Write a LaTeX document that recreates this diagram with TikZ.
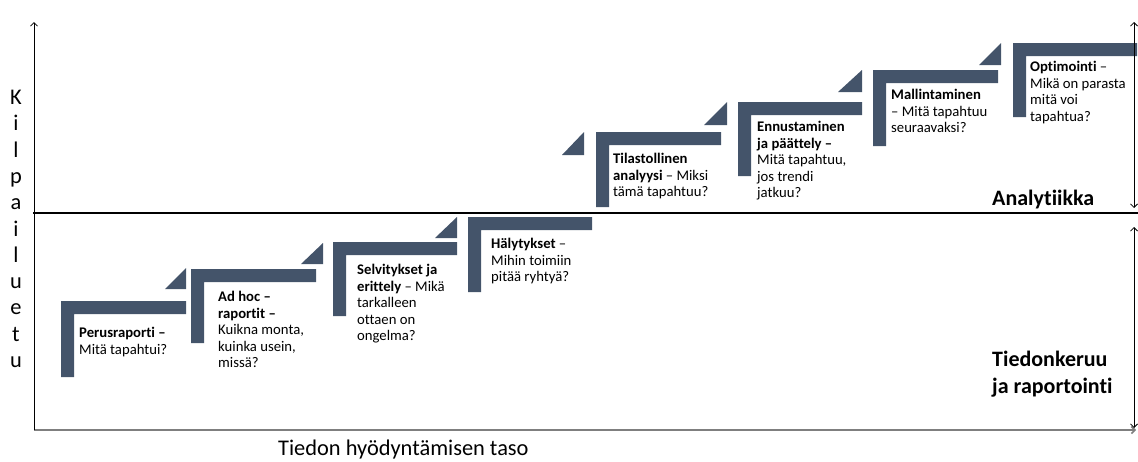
\documentclass[tikz,border=0pt]{standalone}
\usepackage{fontspec}
\setmainfont{Carlito}[Ligatures={NoCommon}]
\usetikzlibrary{arrows.meta}
\definecolor{stepblue}{HTML}{44546A}
\definecolor{axisgray}{HTML}{7F7F7F}
\begin{document}
\begin{tikzpicture}[x=1pt,y=-1pt,
  stepshape/.style={fill=stepblue,draw=none},
  steptext/.style={anchor=north west,inner sep=0pt,align=left,font=\fontsize{14.7}{16.6}\selectfont},
  biglabel/.style={inner sep=0pt,align=left,font=\fontsize{22}{27}\selectfont\bfseries},
  axislabel/.style={inner sep=0pt,align=center,font=\fontsize{22.4}{26.3}\selectfont},
  tip/.tip={Straight Barb[length=3.5pt,width=7pt]},
  axisline/.style={-tip,line width=0.8pt},
  rangearrow/.style={tip-tip,line width=0.8pt}]
\useasboundingbox (0,0) rectangle (1138,461);

% step corner shapes: left/top/right/bottom
\foreach \l/\t/\r/\b in {61/301/186/377, 191/269/316/343, 333/242/457/316, 468/217/592/292,
                          596/132/721/207, 738/102/862/176, 873/70/998/146, 1013/43/1137/117}{
  \fill[stepshape] (\l,\b) -- (\l,\t) -- (\r,\t) -- (\r,\t+13) -- (\l+13,\t+13) -- (\l+13,\b) -- cycle;
}
% small triangles: left/right/top/bottom
\foreach \a/\c/\u/\d in {165/186/268/289, 301/323/243/264, 435/457/217/238, 562/584/132/155,
                         704/727/102/125, 838/862/70/92, 979/1001/43/65}{
  \fill[stepshape] (\a,\d) -- (\c,\d) -- (\c,\u) -- cycle;
}

% axes and dividers
\coordinate (origin) at (34,430);
\coordinate (ytop) at (34,22);
\coordinate (xend) at (1136,430);
\coordinate (dl) at (33,213);
\coordinate (dr) at (1138,213);
\coordinate (ua) at (1134,22);
\coordinate (ub) at (1134,208);
\coordinate (la) at (1134,227);
\coordinate (lb) at (1134,428);
\draw[axisline,axisgray,line width=1.6pt] (origin) -- (xend);
\draw[axisline] (origin) -- (ytop);
\draw[line width=1.4pt] (dl) -- (dr);
\draw[rangearrow] (ua) -- (ub);
\draw[rangearrow] (la) -- (lb);

% step texts
\node[steptext] (s1) at (79,327) {\textbf{Perusraporti –}\\Mitä tapahtui?};
\node[steptext] (s2) at (218,291) {\textbf{Ad hoc –}\\\textbf{raportit –}\\Kuikna monta,\\kuinka usein,\\missä?};
\node[steptext] (s3) at (357,264) {\textbf{Selvitykset ja}\\\textbf{erittely} – Mikä\\tarkalleen\\ottaen on\\ongelma?};
\node[steptext] (s4) at (491,238) {\textbf{Hälytykset} –\\Mihin toimiin\\pitää ryhtyä?};
\node[steptext] (s5) at (613,153) {\textbf{Tilastollinen}\\\textbf{analyysi} – Miksi\\tämä tapahtuu?};
\node[steptext] (s6) at (757,121) {\textbf{Ennustaminen}\\\textbf{ja päättely –}\\Mitä tapahtuu,\\jos trendi\\jatkuu?};
\node[steptext] (s7) at (891,89) {\textbf{Mallintaminen}\\– Mitä tapahtuu\\seuraavaksi?};
\node[steptext] (s8) at (1030,61) {\textbf{Optimointi} –\\Mikä on parasta\\mitä voi\\tapahtua?};

% big labels
\node[biglabel,anchor=base west] (analytiikka) at (992,205) {Analytiikka};
\node[biglabel,anchor=north west] (tiedonkeruu) at (992,351) {Tiedonkeruu\\ja raportointi};
\node[axislabel,anchor=base west] (xlabel) at (278,455) {Tiedon hyödyntämisen taso};
\node[axislabel,anchor=north] (ylabel) at (16,90) {K\\i\\l\\p\\a\\i\\l\\u\\e\\t\\u};
\end{tikzpicture}
\end{document}
